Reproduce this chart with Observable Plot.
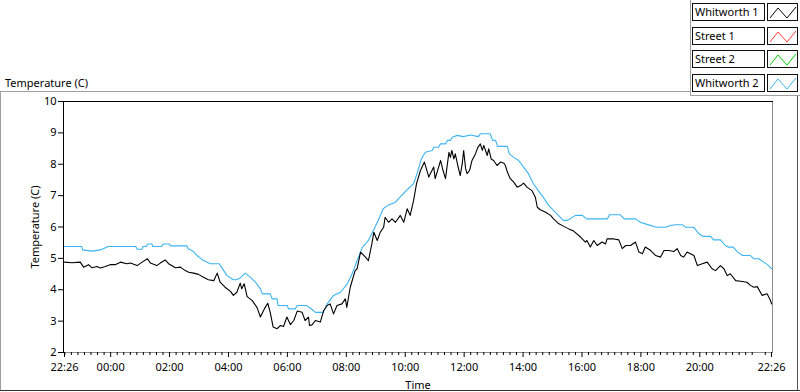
<!DOCTYPE html>
<html><head><meta charset="utf-8">
<script src="https://cdn.jsdelivr.net/npm/d3@7"></script>
<script src="https://cdn.jsdelivr.net/npm/@observablehq/plot@0.6"></script>
<style>
html,body{margin:0;padding:0;background:#fff;}
body{width:800px;height:392px;position:relative;overflow:hidden;font-family:"Noto Sans",sans-serif;color:#000;}
#chart{position:absolute;left:0;top:0;}
.ln{position:absolute;}
#title{position:absolute;left:5px;top:75px;font-size:11px;line-height:15px;white-space:nowrap;}
.lgrow{position:absolute;left:692px;height:18px;width:105px;}
.lgtext{position:absolute;left:0;top:0;width:69px;height:16px;border:1px solid #111;font-size:11px;line-height:16px;padding-left:2px;box-sizing:content-box;white-space:nowrap;background:#fff;}
.lgsw{position:absolute;left:75px;top:0;width:29px;height:16px;border:1px solid #111;background:#fff;}
.lgsw svg{position:absolute;left:0;top:0;}
</style></head><body>
<div id="chart"></div>
<div id="title">Temperature (C)</div>
<div id="legend"></div>
<script>
// ---- legend / series meta ----
const seriesNames = ["Whitworth 1", "Street 1", "Street 2", "Whitworth 2"];
const seriesColors = ["#000000", "#ff3a3a", "#00d000", "#3cb4f2"];

// ---- axis ticks ----
const yTicks = [2, 3, 4, 5, 6, 7, 8, 9, 10];
const xTickMinutes = [-94, 0, 120, 240, 360, 480, 600, 720, 840, 960, 1080, 1200, 1346]; // minutes from midnight
const xMinorStep = 120 / 9;

// ---- Whitworth 1 (black) : minute of day (relative to midnight), temperature ----
const w1Minutes = [-94,-79,-62,-55,-45,-38,-28,-21,-11,-1,9,20,33,40,54,64,75,81,94,101,111,118,132,142,152,159,169,179,189,199,210,217,223,233,244,250,257,264,267,272,278,288,298,305,313,320,325,331,339,346,352,359,366,373,380,390,396,403,405,410,417,427,434,441,447,454,461,471,478,481,488,498,502,509,519,525,532,536,543,549,556,559,566,573,580,590,597,604,610,617,623,631,639,643,648,651,658,661,668,672,677,682,689,692,695,699,702,707,712,716,719,723,726,731,736,743,748,753,757,760,767,770,775,780,787,794,801,804,808,814,821,828,835,841,848,858,865,869,875,886,896,902,913,923,933,943,957,967,970,977,984,991,1001,1008,1011,1025,1035,1042,1049,1059,1069,1076,1083,1089,1100,1110,1120,1127,1137,1147,1154,1161,1167,1174,1188,1195,1205,1215,1225,1232,1242,1249,1256,1262,1273,1283,1296,1303,1310,1317,1327,1337,1344,1346];
const w1Values = [4.88,4.86,4.88,4.72,4.80,4.70,4.74,4.69,4.74,4.80,4.80,4.88,4.83,4.85,4.77,4.88,4.99,4.85,4.77,4.85,4.95,4.83,4.70,4.72,4.61,4.56,4.53,4.49,4.40,4.32,4.29,4.53,4.24,4.08,3.95,3.82,3.92,4.21,4.03,4.19,3.78,3.66,3.44,3.13,3.39,3.57,3.28,2.81,2.76,2.86,2.83,3.13,2.89,3.02,3.32,3.28,3.02,3.13,2.86,2.88,3.02,2.97,3.34,3.50,3.55,3.23,3.50,3.55,3.71,3.44,4.08,4.61,4.67,5.20,5.04,4.93,5.46,5.83,5.57,5.83,5.99,6.31,6.15,6.26,6.15,6.37,6.15,6.58,6.37,6.84,7.38,7.80,8.07,7.86,7.59,7.70,7.91,7.54,7.91,8.12,7.80,7.54,8.38,8.22,8.44,8.17,8.33,7.96,7.64,8.01,8.44,7.86,7.70,7.80,8.12,8.33,8.54,8.65,8.44,8.60,8.28,8.49,8.17,8.12,7.96,8.07,8.03,7.96,7.75,7.54,7.43,7.27,7.32,7.40,7.27,7.16,6.95,6.63,6.55,6.47,6.37,6.26,6.10,6.02,5.94,5.87,5.68,5.52,5.57,5.36,5.57,5.41,5.52,5.46,5.62,5.62,5.59,5.31,5.41,5.41,5.52,5.20,5.15,5.36,5.25,5.09,5.04,5.25,5.25,5.22,5.31,5.09,5.04,5.20,5.09,4.77,4.83,4.88,4.67,4.61,4.77,4.67,4.45,4.51,4.29,4.27,4.24,4.14,4.08,4.10,3.82,3.87,3.66,3.55];

// ---- Whitworth 2 (blue) ----
const w2Minutes = [-94,-59,-57,-38,-21,-5,51,54,64,66,73,75,84,86,104,107,119,122,155,158,168,176,189,203,221,227,237,250,257,264,274,284,295,305,309,325,329,339,341,360,362,376,380,399,413,417,433,441,454,468,482,492,502,513,525,535,545,555,565,580,596,606,617,625,633,641,655,658,667,672,682,686,692,696,706,718,733,749,753,773,778,784,788,808,812,821,831,841,851,861,871,881,892,902,912,922,930,947,961,969,1012,1016,1038,1046,1069,1079,1089,1112,1130,1140,1150,1165,1171,1188,1197,1207,1222,1228,1242,1252,1258,1268,1277,1287,1303,1310,1320,1330,1338,1346];
const w2Values = [5.38,5.38,5.27,5.23,5.27,5.38,5.38,5.29,5.29,5.38,5.38,5.46,5.46,5.38,5.38,5.46,5.46,5.40,5.40,5.31,5.23,5.09,4.93,4.83,4.83,4.69,4.45,4.32,4.32,4.38,4.53,4.40,4.24,4.03,3.87,3.87,3.71,3.71,3.50,3.50,3.39,3.39,3.50,3.50,3.34,3.28,3.28,3.55,3.82,3.92,4.19,4.51,4.93,5.36,5.57,5.89,6.21,6.58,6.69,6.79,7.06,7.22,7.38,7.75,8.18,8.38,8.44,8.54,8.54,8.65,8.65,8.76,8.76,8.86,8.92,8.88,8.93,8.88,8.97,8.97,8.76,8.76,8.57,8.57,8.33,8.22,8.12,7.91,7.70,7.38,7.16,6.95,6.69,6.53,6.37,6.21,6.21,6.37,6.37,6.26,6.26,6.39,6.39,6.26,6.26,6.15,6.10,5.99,5.99,6.05,6.07,6.07,5.99,5.99,5.80,5.70,5.70,5.59,5.59,5.41,5.36,5.36,5.20,5.09,5.09,4.99,4.99,4.88,4.80,4.67];

// ---- build ----
const base = new Date(2024, 0, 2, 0, 0, 0);
const toDate = m => new Date(base.getTime() + m * 60000);
const w1 = w1Minutes.map((m, i) => ({t: toDate(m), v: w1Values[i]}));
const w2 = w2Minutes.map((m, i) => ({t: toDate(m), v: w2Values[i]}));
const majorDates = xTickMinutes.map(toDate);
const minorDates = [];
for (let k = -7; k * xMinorStep <= 1346; k++) {
  if (k % 9 !== 0) minorDates.push(toDate(k * xMinorStep));
}
const fmt = d3.timeFormat("%H:%M");

const chart = Plot.plot({
  width: 800,
  height: 392,
  marginLeft: 63,
  marginRight: 28,
  marginTop: 101,
  marginBottom: 40,
  style: {fontFamily: "Noto Sans, sans-serif", fontSize: "11px", color: "#000", background: "transparent", overflow: "visible"},
  x: {type: "time", domain: [toDate(-94), toDate(1346)], inset: 1},
  y: {domain: [2, 10]},
  marks: [
    Plot.frame({anchor: "bottom", stroke: "#8c8c8c"}),
    Plot.frame({anchor: "right", stroke: "#8c8c8c"}),
    Plot.frame({anchor: "left", stroke: "#000"}),
    Plot.frame({anchor: "top", stroke: "#000"}),
    Plot.axisY({ticks: yTicks, tickSize: 5, tickPadding: 2, tickFormat: d => String(d), label: "Temperature (C)", labelAnchor: "center", labelOffset: 32, labelArrow: "none"}),
    Plot.axisX({ticks: minorDates, tickSize: 3, tickFormat: () => "", label: null}),
    Plot.axisX({ticks: majorDates, tickSize: 5, tickPadding: 6, tickFormat: fmt, label: "Time", labelAnchor: "center", labelOffset: 36, labelArrow: "none"}),
    Plot.lineY(w2, {x: "t", y: "v", stroke: seriesColors[3], strokeWidth: 1.1}),
    Plot.lineY(w1, {x: "t", y: "v", stroke: seriesColors[0], strokeWidth: 1.1})
  ]
});
document.getElementById("chart").appendChild(chart);

// ---- outer frame lines ----
function line(l, t, w, h, c) {
  const d = document.createElement("div");
  d.className = "ln";
  Object.assign(d.style, {left: l + "px", top: t + "px", width: w + "px", height: h + "px", background: c});
  document.body.appendChild(d);
}
line(0, 91, 690, 1, "#a0a0a0");   // top of chart panel
line(0, 91, 1, 300, "#a0a0a0");   // left
line(0, 390, 800, 1, "#303030");  // bottom
line(797, 95, 1, 296, "#505050"); // right
line(690, 0, 1, 96, "#a0a0a0");   // legend panel left
line(690, 95, 110, 1, "#a0a0a0"); // legend panel bottom

// ---- legend ----
const rowTops = [3, 27, 50, 74];
const legend = d3.select("#legend");
seriesNames.forEach((name, i) => {
  const row = legend.append("div").attr("class", "lgrow").style("top", rowTops[i] + "px");
  row.append("div").attr("class", "lgtext").text(name);
  const sw = row.append("div").attr("class", "lgsw");
  const svg = sw.append("svg").attr("width", 29).attr("height", 16);
  svg.append("polyline")
    .attr("points", "2,14 10,4 19,14 28,3")
    .attr("fill", "none")
    .attr("stroke", seriesColors[i])
    .attr("stroke-width", 1);
});
</script>
</body></html>
